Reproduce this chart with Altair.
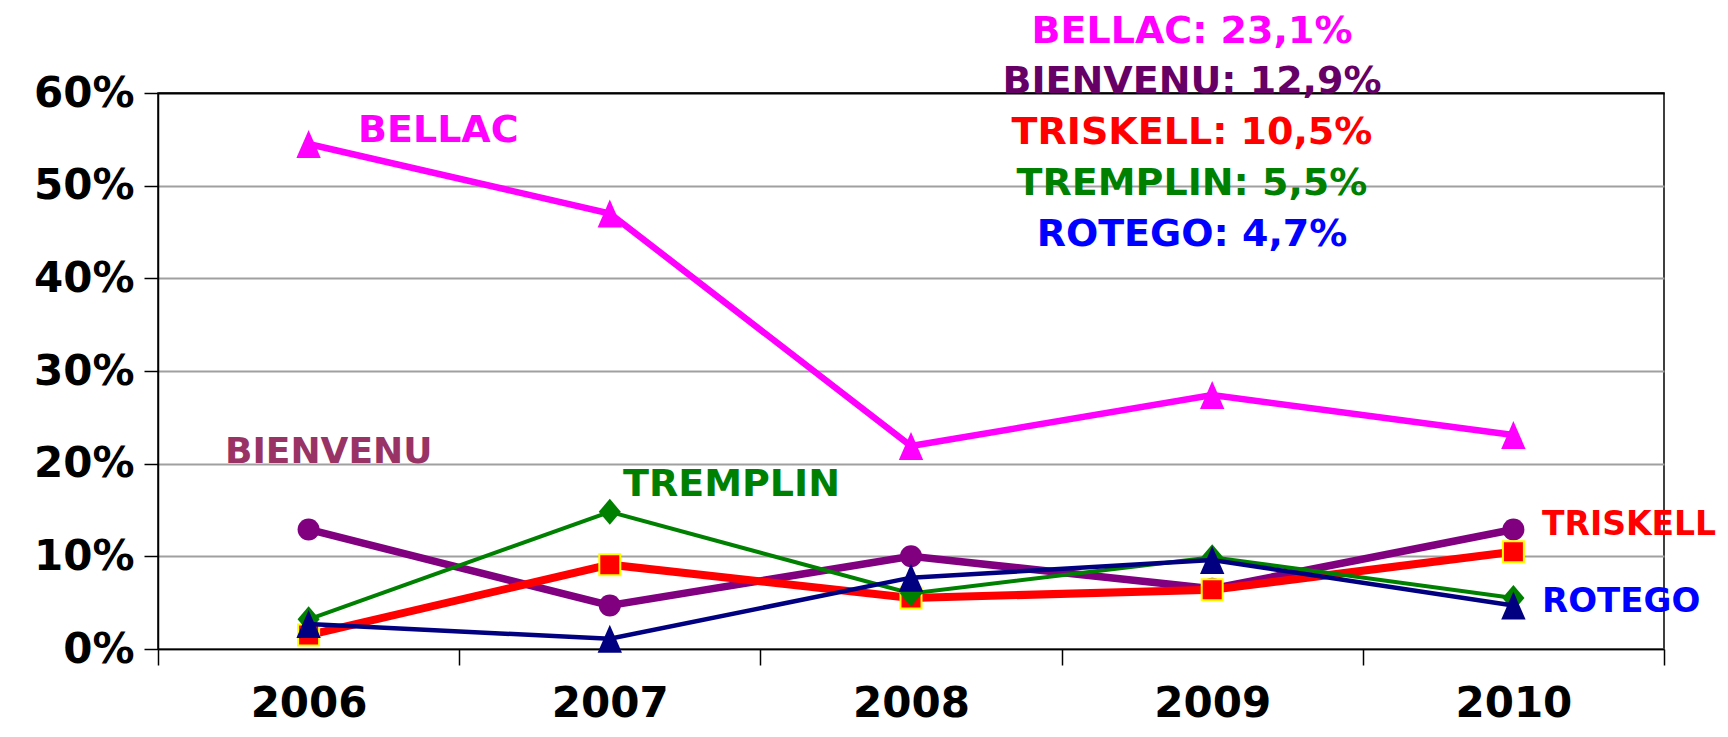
import altair as alt
import pandas as pd

# ---------------- data ----------------
years = ["2006", "2007", "2008", "2009", "2010"]
series_names = ["BELLAC", "BIENVENU", "TRISKELL", "TREMPLIN", "ROTEGO"]
bellac = [0.545, 0.470, 0.219, 0.274, 0.231]
bienvenu = [0.129, 0.047, 0.100, 0.065, 0.129]
triskell = [0.015, 0.091, 0.055, 0.064, 0.105]
tremplin = [0.032, 0.148, 0.060, 0.099, 0.055]
rotego = [0.027, 0.011, 0.077, 0.096, 0.047]
y_ticks = [0, 0.1, 0.2, 0.3, 0.4, 0.5, 0.6]

values = {
    "BELLAC": bellac,
    "BIENVENU": bienvenu,
    "TRISKELL": triskell,
    "TREMPLIN": tremplin,
    "ROTEGO": rotego,
}

# ---------------- styles ----------------
FONT = "DejaVu Sans"
TRI = "M0,-1L0.87,1L-0.87,1Z"
DIAM = "M0,-1L0.85,0L0,1L-0.85,0Z"
style = {
    "BELLAC": dict(color="#FF00FF", width=6.5, shape=TRI, size=784, stroke=None),
    "BIENVENU": dict(color="#800080", width=7.5, shape="circle", size=484, stroke=None),
    "TRISKELL": dict(color="#FF0000", width=8, shape="square", size=441, stroke="#FFFF00"),
    "TREMPLIN": dict(color="#008000", width=4, shape=DIAM, size=676, stroke=None),
    "ROTEGO": dict(color="#000080", width=4.5, shape=TRI, size=784, stroke=None),
}
summary_colors = {
    "BELLAC": "#FF00FF",
    "BIENVENU": "#660066",
    "TRISKELL": "#FF0000",
    "TREMPLIN": "#008000",
    "ROTEGO": "#0000FF",
}
# in-plot series labels: (text, color, x px, y px, font size)
in_labels = [
    ("BELLAC", "#FF00FF", 200, 38, 38),
    ("BIENVENU", "#993366", 67, 359, 36),
    ("TREMPLIN", "#008000", 465, 392, 38),
    ("TRISKELL", "#FF0000", 1384, 432, 33),
    ("ROTEGO", "#0000FF", 1384, 509, 34),
]
summary_x = 1034
summary_y = [-61, -11, 40, 91, 142]

W, H = 1506, 556

rows = []
for s in series_names:
    for yr, v in zip(years, values[s]):
        rows.append({"series": s, "year": yr, "value": v})
df = pd.DataFrame(rows)

x_enc = alt.X(
    "year:N",
    sort=years,
    bandPosition=0.5,
    scale=alt.Scale(type="band", domain=years, paddingInner=0, paddingOuter=0),
    axis=alt.Axis(
        title=None,
        tickBand="extent",
        tickSize=16,
        tickWidth=1.5,
        tickColor="black",
        domainColor="black",
        domainWidth=1.5,
        labelAngle=0,
        labelBaseline="middle",
        labelPadding=38,
        labelFont=FONT,
        labelFontWeight="bold",
        labelFontSize=42,
        labelColor="black",
        grid=False,
    ),
)
y_enc = alt.Y(
    "value:Q",
    scale=alt.Scale(domain=[0, 0.6], nice=False, zero=True),
    axis=alt.Axis(
        title=None,
        values=y_ticks,
        format=".0%",
        tickSize=14,
        tickWidth=1.5,
        tickColor="black",
        domainColor="black",
        domainWidth=1.5,
        labelPadding=10,
        labelFont=FONT,
        labelFontWeight="bold",
        labelFontSize=42,
        labelColor="black",
        labelBaseline="middle",
        grid=True,
        gridColor={"condition": {"test": "datum.value >= 0.59", "value": "black"}, "value": "#A0A0A0"},
        gridWidth=2,
    ),
)

layers = []
for s in series_names:
    st = style[s]
    base = alt.Chart(df).transform_filter(alt.datum.series == s)
    layers.append(
        base.mark_line(color=st["color"], strokeWidth=st["width"]).encode(x=x_enc, y=y_enc)
    )
    pt_kwargs = dict(shape=st["shape"], size=st["size"], filled=True, fill=st["color"], opacity=1)
    if st["stroke"]:
        pt_kwargs.update(stroke=st["stroke"], strokeWidth=2)
    else:
        pt_kwargs.update(strokeWidth=0)
    layers.append(base.mark_point(**pt_kwargs).encode(x=x_enc, y=y_enc))

for text, color, px, py, fs in in_labels:
    layers.append(
        alt.Chart(pd.DataFrame({"t": [text]}))
        .mark_text(font=FONT, fontWeight="bold", fontSize=fs, color=color, align="left", baseline="middle")
        .encode(text="t:N", x=alt.value(px), y=alt.value(py))
    )

for s, py in zip(series_names, summary_y):
    last = values[s][-1]
    txt = f"{s}: {last * 100:.1f}%".replace(".", ",")
    layers.append(
        alt.Chart(pd.DataFrame({"t": [txt]}))
        .mark_text(font=FONT, fontWeight="bold", fontSize=38, color=summary_colors[s], align="center", baseline="middle")
        .encode(text="t:N", x=alt.value(summary_x), y=alt.value(py))
    )

chart = (
    alt.layer(*layers)
    .properties(
        width=W,
        height=H,
        padding={"left": 150, "top": 85, "right": 56, "bottom": 81},
        autosize=alt.AutoSizeParams(type="none"),
        background="white",
    )
    .configure_view(stroke="black", strokeWidth=1.5)
)

chart.save("out.html", embed_options={"renderer": "svg", "actions": False})
